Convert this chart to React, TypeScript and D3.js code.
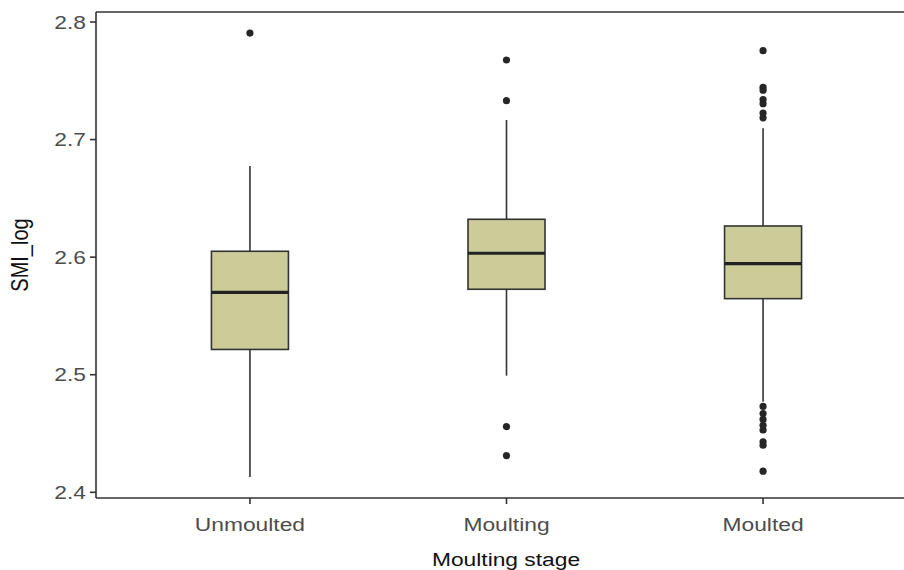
import React from "react";
import * as d3 from "d3";

const categories = ["Unmoulted", "Moulting", "Moulted"];
const q1 = [2.5215, 2.5727, 2.5647];
const medians = [2.570, 2.6033, 2.5945];
const q3 = [2.605, 2.6322, 2.6265];
const whiskerLow = [2.413, 2.4992, 2.477];
const whiskerHigh = [2.6776, 2.7167, 2.7096];
const outliers = [
  [2.7906],
  [2.7677, 2.7331, 2.4559, 2.4312],
  [2.7756, 2.7445, 2.742, 2.734, 2.7305, 2.7225, 2.7185, 2.473, 2.467, 2.462, 2.457, 2.453, 2.443, 2.44, 2.418],
];
const yTicks = [2.4, 2.5, 2.6, 2.7, 2.8];
const xTitle = "Moulting stage";
const yTitle = "SMI_log";

export default function App() {
  const W = 904, H = 570;
  const left = 96, top = 12, bottom = 498, right = 917;
  const y = d3.scaleLinear().domain([2.4, 2.8]).range([492.3, 22]);
  const x = d3.scalePoint<string>().domain(categories).range([left, right]).padding(0.6);
  const bw = 77;
  const ink = "#333333";
  const fill = "#cccc99";
  const font = "'Liberation Sans', Arial, sans-serif";
  const sx = 1.2;
  return (
    <svg width={W} height={H} style={{ position: "absolute", left: 0, top: 0, background: "#fff" }}>
      <rect x={0} y={0} width={W} height={H} fill="#fff" />
      {categories.map((c, i) => {
        const cx = x(c)!;
        return (
          <g key={c}>
            <line x1={cx} x2={cx} y1={y(q3[i])} y2={y(whiskerHigh[i])} stroke={ink} strokeWidth={1.6} />
            <line x1={cx} x2={cx} y1={y(q1[i])} y2={y(whiskerLow[i])} stroke={ink} strokeWidth={1.6} />
            <rect x={cx - bw / 2} y={y(q3[i])} width={bw} height={y(q1[i]) - y(q3[i])} fill={fill} stroke={ink} strokeWidth={1.6} />
            <line x1={cx - bw / 2} x2={cx + bw / 2} y1={y(medians[i])} y2={y(medians[i])} stroke="#222" strokeWidth={3.2} />
            {outliers[i].map((v, j) => (
              <circle key={j} cx={cx} cy={y(v)} r={3.6} fill="#262626" />
            ))}
          </g>
        );
      })}
      <line x1={left} x2={left} y1={top} y2={bottom} stroke={ink} strokeWidth={1.6} />
      <line x1={left} x2={W} y1={bottom} y2={bottom} stroke={ink} strokeWidth={1.6} />
      <line x1={left} x2={W} y1={top} y2={top} stroke={ink} strokeWidth={1.6} />
      {yTicks.map((t) => (
        <g key={t}>
          <line x1={left - 6} x2={left} y1={y(t)} y2={y(t)} stroke={ink} strokeWidth={1.6} />
          <text transform={`translate(${left - 10},${y(t)}) scale(${sx},1)`} dy="0.35em" textAnchor="end" fontFamily={font} fontSize={19} fill="#4d4d4d">
            {d3.format(".1f")(t)}
          </text>
        </g>
      ))}
      {categories.map((c) => (
        <g key={c}>
          <line x1={x(c)!} x2={x(c)!} y1={bottom} y2={bottom + 6} stroke={ink} strokeWidth={1.6} />
          <text transform={`translate(${x(c)!},531) scale(${sx},1)`} textAnchor="middle" fontFamily={font} fontSize={19} fill="#4d4d4d">
            {c}
          </text>
        </g>
      ))}
      <text transform={`translate(506,566) scale(${sx},1)`} textAnchor="middle" fontFamily={font} fontSize={19} fill="#111">
        {xTitle}
      </text>
      <text transform={`translate(28,${(top + bottom) / 2}) scale(${sx},1) rotate(-90)`} textAnchor="middle" fontFamily={font} fontSize={20} fill="#111">
        {yTitle}
      </text>
    </svg>
  );
}
